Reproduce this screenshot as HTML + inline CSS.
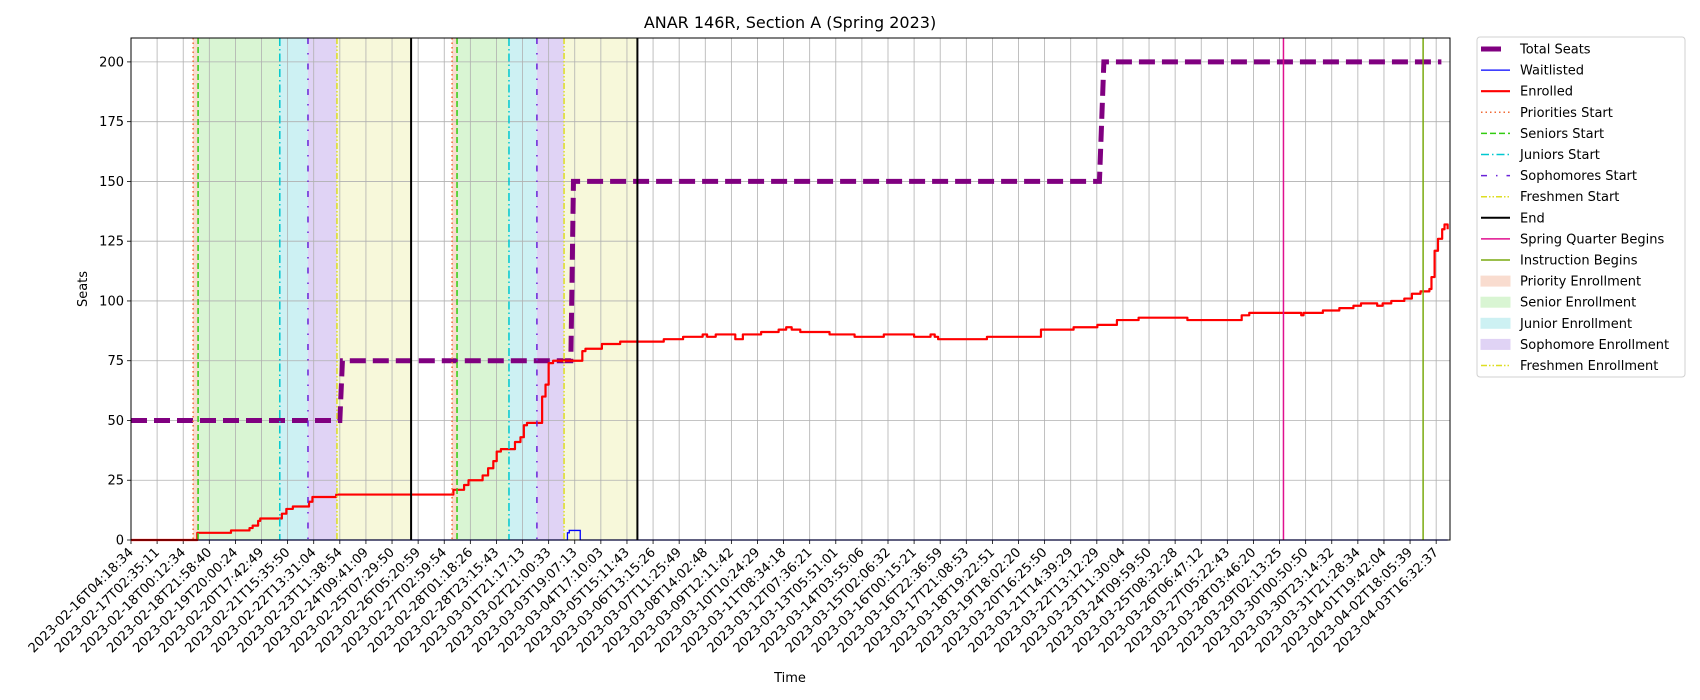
<!DOCTYPE html>
<html><head><meta charset="utf-8"><style>
body{margin:0;background:#fff;}
svg{display:block;font-family:"DejaVu Sans","Liberation Sans",sans-serif;}
</style></head><body>
<svg id="chart" width="1700" height="700" viewBox="0 0 1700 700">
<text x="790" y="28" text-anchor="middle" font-size="16">ANAR 146R, Section A (Spring 2023)</text>
<text x="87" y="289" text-anchor="middle" font-size="13" transform="rotate(-90 87 289)">Seats</text>
<text x="790" y="682" text-anchor="middle" font-size="13">Time</text>
<g id="plot"></g>
</svg>
<script>
const tickLabels = ["2023-02-16T04:18:34","2023-02-17T02:35:11","2023-02-18T00:12:34","2023-02-18T21:58:40","2023-02-19T20:00:24","2023-02-20T17:42:49","2023-02-21T15:35:50","2023-02-22T13:31:04","2023-02-23T11:38:54","2023-02-24T09:41:09","2023-02-25T07:29:50","2023-02-26T05:20:59","2023-02-27T02:59:54","2023-02-28T01:18:26","2023-02-28T23:15:43","2023-03-01T21:17:13","2023-03-02T21:00:33","2023-03-03T19:07:13","2023-03-04T17:10:03","2023-03-05T15:11:43","2023-03-06T13:15:26","2023-03-07T11:25:49","2023-03-08T14:02:48","2023-03-09T12:11:42","2023-03-10T10:24:29","2023-03-11T08:34:18","2023-03-12T07:36:21","2023-03-13T05:51:01","2023-03-14T03:55:06","2023-03-15T02:06:32","2023-03-16T00:15:21","2023-03-16T22:36:59","2023-03-17T21:08:53","2023-03-18T19:22:51","2023-03-19T18:02:20","2023-03-20T16:25:50","2023-03-21T14:39:29","2023-03-22T13:12:29","2023-03-23T11:30:04","2023-03-24T09:59:50","2023-03-25T08:32:28","2023-03-26T06:47:12","2023-03-27T05:22:43","2023-03-28T03:46:20","2023-03-29T02:13:25","2023-03-30T00:50:50","2023-03-30T23:14:32","2023-03-31T21:28:34","2023-04-01T19:42:04","2023-04-02T18:05:39","2023-04-03T16:32:37"];
const yTicks = [0,25,50,75,100,125,150,175,200];
// time in tick-index units
const totalT = [0, 8.0, 8.1, 16.85, 16.95, 37.1, 37.27, 50.2];
const totalV = [50, 50, 75, 75, 150, 150, 200, 200];
const waitT = [0, 16.63, 16.72, 16.79, 17.21, 50.44];
const waitV = [0, 0, 3, 4, 0, 0];
const enrT = [0,2.42,2.54,3.83,4.54,4.66,4.87,4.95,5.70,5.78,5.95,6.11,6.20,6.74,6.82,6.95,7.86,12.31,12.35,12.76,12.93,13.47,13.68,13.88,14.01,14.17,14.59,14.71,14.92,15.05,15.17,15.67,15.75,15.88,16.00,16.17,17.21,17.29,17.41,17.83,18.04,18.74,20.41,21.15,21.90,22.07,22.40,23.15,23.44,24.14,24.81,25.10,25.31,25.64,26.76,27.72,28.84,30.00,30.63,30.79,30.92,32.79,34.86,36.11,37.02,37.77,38.60,40.47,42.55,42.84,44.83,44.92,45.66,46.29,46.83,47.12,47.74,47.95,48.28,48.78,49.07,49.40,49.74,49.82,49.94,50.07,50.23,50.32,50.44];
const enrV = [0,0,3,4,5,6,8,9,9,11,13,13,14,14,16,18,19,19,21,23,25,27,30,33,37,38,38,41,43,48,49,49,60,65,74,75,75,79,80,80,82,83,84,85,86,85,86,84,86,87,88,89,88,87,86,85,86,85,86,85,84,85,88,89,90,92,93,92,94,95,94,95,96,97,98,99,98,99,100,101,103,104,105,110,121,126,130,132,130];
const eventNames = ["priorities","seniors","juniors","sophomores","freshmen","end","priorities","seniors","juniors","sophomores","freshmen","end","spring-quarter","instruction"];
const eventT = [2.38,2.57,5.70,6.78,7.89,10.73,12.30,12.49,14.48,15.55,16.59,19.4,44.15,49.5];
const spanNames = ["priority","senior","junior","sophomore","freshmen","priority","senior","junior","sophomore","freshmen"];
const spanStart = [2.38,2.57,5.70,6.78,7.89,12.30,12.49,14.48,15.55,16.59];
const spanEnd = [2.57,5.70,6.78,7.89,10.73,12.49,14.48,15.55,16.59,19.4];

const L=131,R=1450,T=38,B=540,X0=0,X1=50.53,Y0=0,Y1=210;
const sx=t=>L+(t-X0)/(X1-X0)*(R-L);
const sy=v=>B-(v-Y0)/(Y1-Y0)*(B-T);
const NS="http://www.w3.org/2000/svg";
const g=document.getElementById('plot');
function mk(tag,attrs,parent){const e=document.createElementNS(NS,tag);for(const k in attrs)e.setAttribute(k,attrs[k]);(parent||g).appendChild(e);return e;}
const styles={
 priorities:{stroke:"#f06a35",dash:"1.5,3",w:1.5},
 seniors:{stroke:"#33cc11",dash:"6,3",w:1.5},
 juniors:{stroke:"#00c8d0",dash:"8,3,1.5,3",w:1.5},
 sophomores:{stroke:"#6a22d8",dash:"6,9,1.5,9",w:1.5},
 freshmen:{stroke:"#dede22",dash:"6,2,1.5,2,1.5,2",w:1.5},
 end:{stroke:"#000",dash:"",w:2},
 "spring-quarter":{stroke:"#e0108f",dash:"",w:1.5},
 instruction:{stroke:"#7aaa10",dash:"",w:1.5}};
const fills={priority:"#f9dccf",senior:"#d9f5d3",junior:"#cdf1f3",sophomore:"#e0d3f5",freshmen:"#f7f8da"};

// spans
for(let i=0;i<spanStart.length;i++){
 const r=mk('rect',{x:sx(spanStart[i]),y:T,width:sx(spanEnd[i])-sx(spanStart[i]),height:B-T,fill:fills[spanNames[i]]});
 
 
}
// grid
for(let i=0;i<tickLabels.length;i++){
 const x=sx(i);
 const l=mk('line',{x1:x,x2:x,y1:T,y2:B,stroke:"#b0b0b0","stroke-width":0.8});
 
 
 const tk=mk('line',{x1:x,x2:x,y1:B,y2:B+4,stroke:"#000","stroke-width":0.8});
 
 
 const tx=mk('text',{x:x+3,y:B+13,"text-anchor":"end","font-size":"13",transform:`rotate(-45 ${x+3} ${B+13})`});
 tx.textContent=tickLabels[i];
 
 
}
for(const v of yTicks){
 const y=sy(v);
 const l=mk('line',{x1:L,x2:R,y1:y,y2:y,stroke:"#b0b0b0","stroke-width":0.8});
 
 
 const tk=mk('line',{x1:L-4,x2:L,y1:y,y2:y,stroke:"#000","stroke-width":0.8});
 
 
 const tx=mk('text',{x:L-7,y:y+4.5,"text-anchor":"end","font-size":"13"});
 tx.textContent=v;
 
 
}
function pts(ts,vs,step){let s=[];for(let i=0;i<ts.length;i++){if(step&&i>0)s.push(sx(ts[i])+','+sy(vs[i-1]));s.push(sx(ts[i])+','+sy(vs[i]));}return s.join(' ');}
const tot=mk('polyline',{points:pts(totalT,totalV,false),fill:"none",stroke:"#800080","stroke-width":5,"stroke-dasharray":"16,7"});


const wl=mk('polyline',{points:pts(waitT,waitV,true),fill:"none",stroke:"#0000ff","stroke-width":1.3});


const en=mk('polyline',{points:pts(enrT,enrV,true),fill:"none",stroke:"#ff0000","stroke-width":2.2,"stroke-linejoin":"round"});


for(let i=0;i<eventT.length;i++){
 const s=styles[eventNames[i]],x=sx(eventT[i]);
 const l=mk('line',{x1:x,x2:x,y1:T,y2:B,stroke:s.stroke,"stroke-width":s.w,"stroke-dasharray":s.dash});
 
 
}
const fr=mk('rect',{x:L,y:T,width:R-L,height:B-T,fill:"none",stroke:"#000","stroke-width":1});



// legend
const lg=mk('g',{});


mk('rect',{x:1477,y:37,width:208,height:340,rx:3,fill:"#fff",stroke:"#d0d0d0"},lg);
const legendLabels=["Total Seats","Waitlisted","Enrolled","Priorities Start","Seniors Start","Juniors Start","Sophomores Start","Freshmen Start","End","Spring Quarter Begins","Instruction Begins","Priority Enrollment","Senior Enrollment","Junior Enrollment","Sophomore Enrollment","Freshmen Enrollment"];
const legendKeys=["total","wait","enr","priorities","seniors","juniors","sophomores","freshmen","end","spring-quarter","instruction","priority","senior","junior","sophomore","freshmen"];
legendLabels.forEach((lab,i)=>{
 const y=49+i*21.1,k=legendKeys[i];
 const e=mk('g',{},lg);
 
 
 if(k==="total")mk('line',{x1:1481,x2:1501,y1:y,y2:y,stroke:"#800080","stroke-width":5},e);
 else if(k==="wait")mk('line',{x1:1481,x2:1510,y1:y,y2:y,stroke:"#0000ff","stroke-width":1.3},e);
 else if(k==="enr")mk('line',{x1:1481,x2:1510,y1:y,y2:y,stroke:"#ff0000","stroke-width":2.2},e);
 else if(styles[k]){const s=styles[k];mk('line',{x1:1481,x2:1510,y1:y,y2:y,stroke:s.stroke,"stroke-width":s.w,"stroke-dasharray":s.dash},e);}
 else mk('rect',{x:1481,y:y-5,width:29,height:10,fill:fills[k],stroke:fills[k]},e);
 const t=mk('text',{x:1520,y:y+4.5,"font-size":"13"},e);t.textContent=lab;
});
</script>
</body></html>
